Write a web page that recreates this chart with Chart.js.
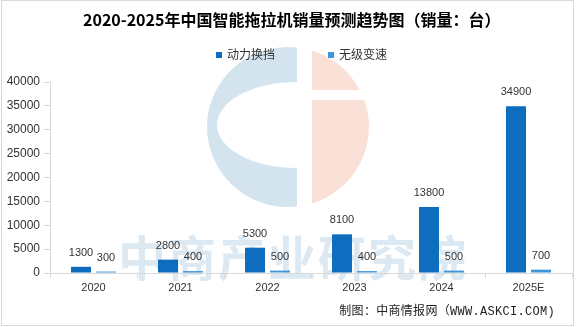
<!DOCTYPE html>
<html>
<head>
<meta charset="utf-8">
<script src="https://cdn.jsdelivr.net/npm/chart.js@4"></script>
<style>
  html, body { margin: 0; padding: 0; background: #fff; }
  #wrap { position: relative; width: 576px; height: 327px; background: #fff; overflow: hidden; }
  #frame { position: absolute; left: 1px; top: 0; width: 573px; height: 326px; border: 1px solid #d9d9d9; box-sizing: border-box; pointer-events: none; }
  canvas { position: absolute; left: 0; top: 0; }
  .title { position: absolute; left: 83px; top: 9px; font: bold 16px "Noto Sans CJK SC", sans-serif; line-height: 21px; color: #000; white-space: nowrap; }
  .legend { position: absolute; top: 46px; font: 12px "Noto Sans CJK SC", sans-serif; line-height: 16px; color: #333; white-space: nowrap; }
  .legend i { display: inline-block; width: 6px; height: 6px; margin-right: 5px; vertical-align: 1px; }
  .source { position: absolute; right: 21px; top: 303px; font: 12px "Liberation Mono", "Noto Sans CJK SC", monospace; line-height: 18px; color: #222; letter-spacing: 0.3px; white-space: nowrap; }
</style>
</head>
<body>
<div id="wrap">
  <canvas id="salesChart" width="576" height="327"></canvas>
  <div class="title">2020-2025年中国智能拖拉机销量预测趋势图（销量：台）</div>
  <div class="legend" style="left:216px"><i style="background:#0f6dbf"></i>动力换挡</div>
  <div class="legend" style="left:328px"><i style="background:#3c96dc"></i>无级变速</div>
  <div class="source">制图：中商情报网（WWW.ASKCI.COM)</div>
  <div id="frame"></div>
</div>
<script>
// --- DATA ---
const years = ['2020', '2021', '2022', '2023', '2024', '2025E'];
const powerShift = [1300, 2800, 5300, 8100, 13800, 34900];   // 动力换挡
const cvt = [300, 400, 500, 400, 500, 700];                  // 无级变速
const yTicks = [0, 5000, 10000, 15000, 20000, 25000, 30000, 35000, 40000];

const DARK = '#0f6dbf';
const LIGHT = '#3c96dc';

// faint logo + watermark behind everything
const watermark = {
    id: 'watermark',
    beforeDraw(chart) {
        const ctx = chart.ctx;
        ctx.save();
        // left half of logo (C shape)
        ctx.beginPath();
        ctx.rect(0, 0, 297, 327);
        ctx.clip();
        ctx.beginPath();
        ctx.ellipse(288, 127, 81, 80, 0, 0, Math.PI * 2);
        ctx.ellipse(297, 125, 80, 43, 0, 0, Math.PI * 2, true);
        ctx.fillStyle = '#d4e4ee';
        ctx.fill('evenodd');
        ctx.restore();

        // right half of logo
        ctx.save();
        ctx.beginPath();
        ctx.rect(312, 0, 100, 90);
        ctx.rect(312, 100, 100, 227);
        ctx.clip();
        ctx.beginPath();
        ctx.ellipse(288, 127, 81, 80, 0, 0, Math.PI * 2);
        ctx.fillStyle = '#f9e1d7';
        ctx.fill();
        ctx.restore();

        // watermark text
        ctx.save();
        ctx.font = 'bold 48px "Noto Sans CJK SC", sans-serif';
        ctx.fillStyle = '#dce9f2';
        ctx.textBaseline = 'middle';
        const txt = '中商产业研究院';
        let x = 118;
        for (const ch of txt) {
            ctx.fillText(ch, x, 258);
            x += 50;
        }
        ctx.restore();
    }
};

// value labels above bars
const barLabels = {
    id: 'barLabels',
    afterDatasetsDraw(chart) {
        const ctx = chart.ctx;
        ctx.save();
        ctx.font = '11px "Liberation Sans", Arial, sans-serif';
        ctx.fillStyle = '#333';
        ctx.textAlign = 'center';
        ctx.textBaseline = 'middle';
        chart.data.datasets.forEach((ds, i) => {
            chart.getDatasetMeta(i).data.forEach((bar, j) => {
                ctx.fillText(ds.data[j], bar.x, bar.y - 14);
            });
        });
        ctx.restore();
    }
};

new Chart(document.getElementById('salesChart'), {
    type: 'bar',
    data: {
        labels: years,
        datasets: [
            { label: '动力换挡', data: powerShift, backgroundColor: DARK },
            { label: '无级变速', data: cvt, backgroundColor: LIGHT }
        ]
    },
    options: {
        responsive: false,
        animation: false,
        devicePixelRatio: 1,
        categoryPercentage: 0.575,
        barPercentage: 0.8,
        layout: { padding: { left: 6, right: 4, top: 82, bottom: 24 } },
        plugins: {
            legend: { display: false },
            title: { display: false },
            tooltip: { enabled: false }
        },
        scales: {
            x: {
                grid: { drawOnChartArea: false, offset: true, tickLength: 5, color: '#d9d9d9' },
                border: { color: '#d9d9d9' },
                ticks: { color: '#333', padding: 3, font: { size: 11, family: '"Liberation Sans", Arial, sans-serif' } },
                afterFit(scale) { scale.height = 30; }
            },
            y: {
                min: 0,
                max: 40000,
                afterBuildTicks(scale) { scale.ticks = yTicks.map(v => ({ value: v })); },
                grid: { drawOnChartArea: false, tickLength: 6, color: '#d9d9d9' },
                border: { color: '#d9d9d9' },
                ticks: {
                    color: '#333',
                    padding: 4,
                    font: { size: 12, family: '"Liberation Sans", Arial, sans-serif' },
                    callback: v => String(v)
                },
                afterFit(scale) { scale.width = 44; }
            }
        }
    },
    plugins: [watermark, barLabels]
});
</script>
</body>
</html>
